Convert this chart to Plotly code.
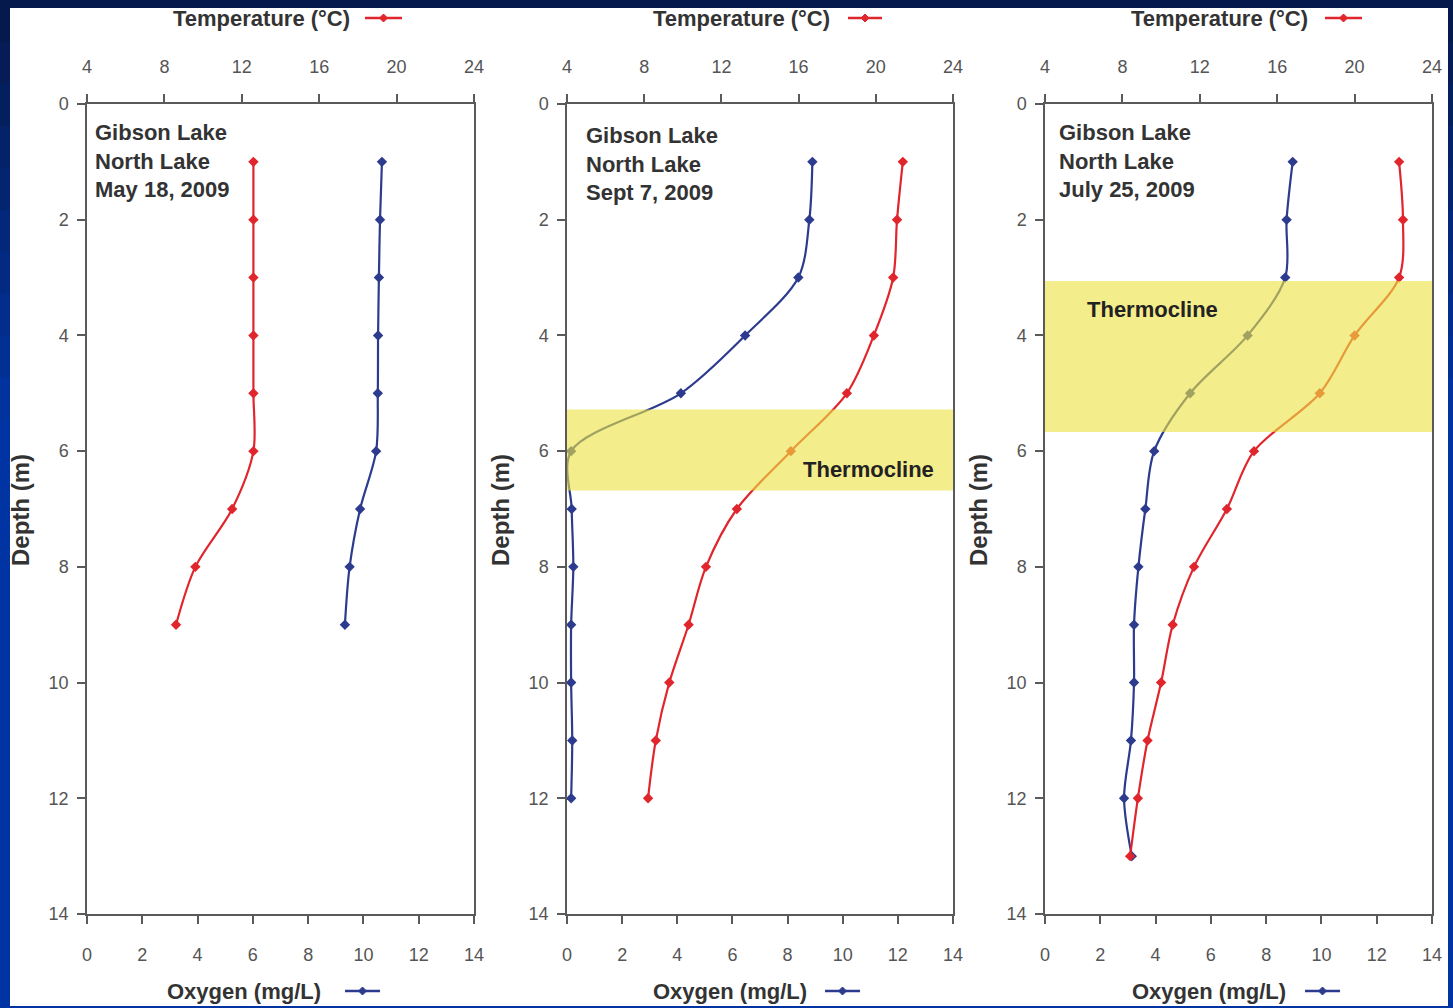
import plotly.graph_objects as go

# ---------------- data ----------------
titles = ["Gibson Lake<br>North Lake<br>May 18, 2009",
          "Gibson Lake<br>North Lake<br>Sept 7, 2009",
          "Gibson Lake<br>North Lake<br>July 25, 2009"]

depth_may = [1, 2, 3, 4, 5, 6, 7, 8, 9]
temp_may = [12.6, 12.6, 12.6, 12.6, 12.6, 12.6, 11.5, 9.6, 8.6]
oxy_may = [10.67, 10.6, 10.56, 10.53, 10.52, 10.46, 9.88, 9.5, 9.33]

depth_sep = [1, 2, 3, 4, 5, 6, 7, 8, 9, 10, 11, 12]
temp_sep = [21.4, 21.1, 20.9, 19.9, 18.5, 15.6, 12.8, 11.2, 10.3, 9.3, 8.6, 8.2]
oxy_sep = [8.9, 8.79, 8.39, 6.46, 4.13, 0.15, 0.17, 0.23, 0.15, 0.15, 0.19, 0.15]

depth_jul = [1, 2, 3, 4, 5, 6, 7, 8, 9, 10, 11, 12, 13]
temp_jul = [22.3, 22.5, 22.3, 20.0, 18.2, 14.8, 13.4, 11.7, 10.6, 10.0, 9.3, 8.8, 8.4]
oxy_jul = [8.96, 8.74, 8.69, 7.33, 5.25, 3.95, 3.63, 3.38, 3.22, 3.22, 3.11, 2.86, 3.14]

thermocline_sep = [5.28, 6.68]
thermocline_jul = [3.06, 5.67]

oxy_ticks = [0, 2, 4, 6, 8, 10, 12, 14]
temp_ticks = [4, 8, 12, 16, 20, 24]
depth_ticks = [0, 2, 4, 6, 8, 10, 12, 14]

# ---------------- layout geometry ----------------
W, H = 1453, 1008
L, R, T, B = 87, 21, 104, 94
PW = W - L - R
PH = H - T - B


def px(x):
    return (x - L) / PW


def py(y):
    return (H - B - y) / PH


domains = [[px(87), px(474)], [px(567), px(953)], [px(1045), px(1432)]]

RED = "#e0262c"
BLUE = "#2c3b8e"
AXC = "#5a5a5a"
TXT = "#333333"
TICKFONT = dict(family="Liberation Sans, Arial, sans-serif", size=18, color="#555555")
BOLD = "Liberation Sans, Arial, sans-serif"

fig = go.Figure()

panels = [
    (depth_may, temp_may, oxy_may),
    (depth_sep, temp_sep, oxy_sep),
    (depth_jul, temp_jul, oxy_jul),
]

for i, (d, t, o) in enumerate(panels):
    xb = "x" if i == 0 else f"x{2 * i + 1}"
    xt = f"x{2 * i + 2}"
    ya = "y" if i == 0 else f"y{i + 1}"
    fig.add_trace(go.Scatter(x=t, y=d, xaxis=xt, yaxis=ya, mode="lines+markers",
                             line=dict(color=RED, width=2.2, shape="spline", smoothing=0.9),
                             marker=dict(symbol="diamond", size=8, color=RED),
                             showlegend=False, name="Temperature"))
    fig.add_trace(go.Scatter(x=o, y=d, xaxis=xb, yaxis=ya, mode="lines+markers",
                             line=dict(color=BLUE, width=2.2, shape="spline", smoothing=0.9),
                             marker=dict(symbol="diamond", size=8, color=BLUE),
                             showlegend=False, name="Oxygen"))

layout = dict(
    width=W, height=H,
    margin=dict(l=L, r=R, t=T, b=B),
    paper_bgcolor="#0a2470",
    plot_bgcolor="white",
    showlegend=False,
)

for i in range(3):
    xb_key = "xaxis" if i == 0 else f"xaxis{2 * i + 1}"
    xt_key = f"xaxis{2 * i + 2}"
    y_key = "yaxis" if i == 0 else f"yaxis{i + 1}"
    xb_ref = "x" if i == 0 else f"x{2 * i + 1}"
    y_ref = "y" if i == 0 else f"y{i + 1}"
    layout[xb_key] = dict(domain=domains[i], anchor=y_ref, range=[0, 14], tickvals=oxy_ticks,
                          side="bottom", showline=True, linecolor=AXC, linewidth=1.5,
                          ticks="outside", ticklen=8, tickcolor=AXC, tickwidth=1.5,
                          showgrid=False, zeroline=False, tickfont=TICKFONT,
                          ticklabelstandoff=16)
    layout[xt_key] = dict(domain=domains[i], anchor=y_ref, overlaying=xb_ref, range=[4, 24],
                          tickvals=temp_ticks, side="top", showline=True, linecolor=AXC,
                          linewidth=1.5, ticks="outside", ticklen=8, tickcolor=AXC,
                          tickwidth=1.5, showgrid=False, zeroline=False, tickfont=TICKFONT,
                          ticklabelstandoff=14)
    layout[y_key] = dict(domain=[0, 1], anchor=xb_ref, range=[14, 0], tickvals=depth_ticks,
                         showline=True, mirror=True, linecolor=AXC, linewidth=1.5,
                         ticks="outside", ticklen=8, tickcolor=AXC, tickwidth=1.5,
                         showgrid=False, zeroline=False, tickfont=TICKFONT,
                         ticklabelstandoff=5)

fig.update_layout(**layout)

shapes = []
# background gradient (navy top -> blue)
nb = 24
top_c = (6, 24, 72)
bot_c = (0, 52, 162)
for k in range(nb):
    y0p = k * H / nb
    y1p = (k + 1) * H / nb
    f = min(1.0, (y0p + y1p) / 2 / 420.0)
    c = tuple(int(round(top_c[j] + (bot_c[j] - top_c[j]) * f)) for j in range(3))
    shapes.append(dict(type="rect", xref="paper", yref="paper", layer="below",
                       x0=px(-2), x1=px(W + 2), y0=py(y1p + 1), y1=py(y0p),
                       line=dict(width=0), fillcolor=f"rgb{c}"))
# white card
shapes.append(dict(type="rect", xref="paper", yref="paper", layer="below",
                   x0=px(10), x1=px(1448), y0=py(1006), y1=py(8),
                   line=dict(width=0), fillcolor="white"))

# thermocline bands (semi-transparent, above traces)
for ax_i, band in [(1, thermocline_sep), (2, thermocline_jul)]:
    shapes.append(dict(type="rect", xref=f"x{2 * ax_i + 1} domain", yref=f"y{ax_i + 1}",
                       x0=0, x1=1, y0=band[0], y1=band[1], layer="above",
                       line=dict(width=0), fillcolor="rgba(236,226,68,0.62)"))


# legend samples
def legend_sample(x0, x1, yc, color):
    shapes.append(dict(type="line", xref="paper", yref="paper",
                       x0=px(x0), x1=px(x1), y0=py(yc), y1=py(yc),
                       line=dict(color=color, width=2.5)))
    xm = (x0 + x1) / 2
    s = 4
    path = (f"M {px(xm - s)} {py(yc)} L {px(xm)} {py(yc - s)} "
            f"L {px(xm + s)} {py(yc)} L {px(xm)} {py(yc + s)} Z")
    shapes.append(dict(type="path", xref="paper", yref="paper", path=path,
                       fillcolor=color, line=dict(color=color, width=1)))


temp_text_c = [261, 741, 1219]
temp_line = [(365, 402), (848, 882), (1325, 1362)]
oxy_text_c = [244, 730, 1209]
oxy_line = [(345, 380), (825, 860), (1305, 1340)]
for i in range(3):
    legend_sample(*temp_line[i], 18, RED)
    legend_sample(*oxy_line[i], 991, BLUE)

fig.update_layout(shapes=shapes)

ann = []
for i in range(3):
    ann.append(dict(text="Temperature (°C)", xref="paper", yref="paper",
                    x=px(temp_text_c[i]), y=py(18), xanchor="center", yanchor="middle",
                    showarrow=False, font=dict(family=BOLD, size=22, color=TXT, weight="bold")))
    ann.append(dict(text="Oxygen (mg/L)", xref="paper", yref="paper",
                    x=px(oxy_text_c[i]), y=py(991), xanchor="center", yanchor="middle",
                    showarrow=False, font=dict(family=BOLD, size=22, color=TXT, weight="bold")))

depth_title_x = [20, 500, 978]
for i in range(3):
    ann.append(dict(text="Depth (m)", xref="paper", yref="paper",
                    x=px(depth_title_x[i]), y=py(510), xanchor="center", yanchor="middle",
                    textangle=-90, showarrow=False,
                    font=dict(family=BOLD, size=24, color=TXT, weight="bold")))

title_x = [93, 584, 1057]
title_y = [161, 164, 161]
for i in range(3):
    ann.append(dict(text=titles[i], xref="paper", yref="paper", align="left",
                    x=px(title_x[i]), y=py(title_y[i]), xanchor="left", yanchor="middle",
                    showarrow=False,
                    font=dict(family=BOLD, size=22, color=TXT, weight="bold")))

ann.append(dict(text="Thermocline", xref="paper", yref="paper",
                x=px(868), y=py(469), xanchor="center", yanchor="middle", showarrow=False,
                font=dict(family=BOLD, size=22, color="#222222", weight="bold")))
ann.append(dict(text="Thermocline", xref="paper", yref="paper",
                x=px(1152), y=py(309), xanchor="center", yanchor="middle", showarrow=False,
                font=dict(family=BOLD, size=22, color="#222222", weight="bold")))

fig.update_layout(annotations=ann)

fig.write_html(
    "out.html",
    config={"displayModeBar": False},
    post_script="document.body.style.margin='0px';document.body.style.overflow='hidden';",
)
